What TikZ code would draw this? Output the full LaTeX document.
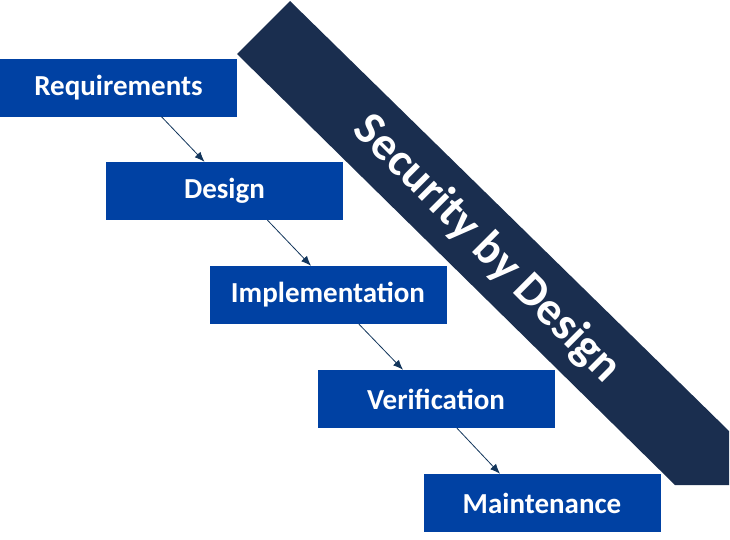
\documentclass[tikz,border=0pt]{standalone}
\usepackage{fontspec}
\setmainfont{Carlito}
\usepackage{xcolor}
\usepackage{tikz}
\usetikzlibrary{positioning,calc,arrows.meta}
\definecolor{stageblue}{HTML}{0041A3}
\definecolor{bannernavy}{HTML}{1A2E4F}
\definecolor{flownavy}{HTML}{12355B}

\begin{document}
\begin{tikzpicture}[x=1pt,y=-1pt,
    stage/.style={fill=stageblue,text=white,minimum width=237pt,minimum height=58pt,inner sep=0pt,font=\bfseries\fontsize{29}{33}\selectfont},
    flow/.style={flownavy,line width=0.8pt,-{Latex[length=10pt,width=8pt]}}]
    \useasboundingbox (0,0) rectangle (730,539);
    % banner
    \fill[bannernavy] (237,54) -- (290,1) -- (729,431) -- (729,485) -- (675,485) -- cycle;
    \node[text=white,rotate=-45,font=\bfseries\fontsize{47}{52}\selectfont] (sbd) at (487,249) {Security by Design};
    % stages
    \node[stage] (req) at (118.5,87.5) {Requirements};
    \node[stage] (des) at (224.5,191) {Design};
    \node[stage] (imp) at (328,295) {Implementation};
    \node[stage] (ver) at (436,399) {Verification};
    \node[stage] (mai) at (542,503) {Maintenance};
    % arrows
    \draw[flow] ($(req.south)+(43,0)$) -- ($(des.north)+(-20,0)$);
    \draw[flow] ($(des.south)+(43,0)$) -- ($(imp.north)+(-17,0)$);
    \draw[flow] ($(imp.south)+(31,0)$) -- ($(ver.north)+(-33,0)$);
    \draw[flow] ($(ver.south)+(21,0)$) -- ($(mai.north)+(-42,0)$);
  \end{tikzpicture}
\end{document}
